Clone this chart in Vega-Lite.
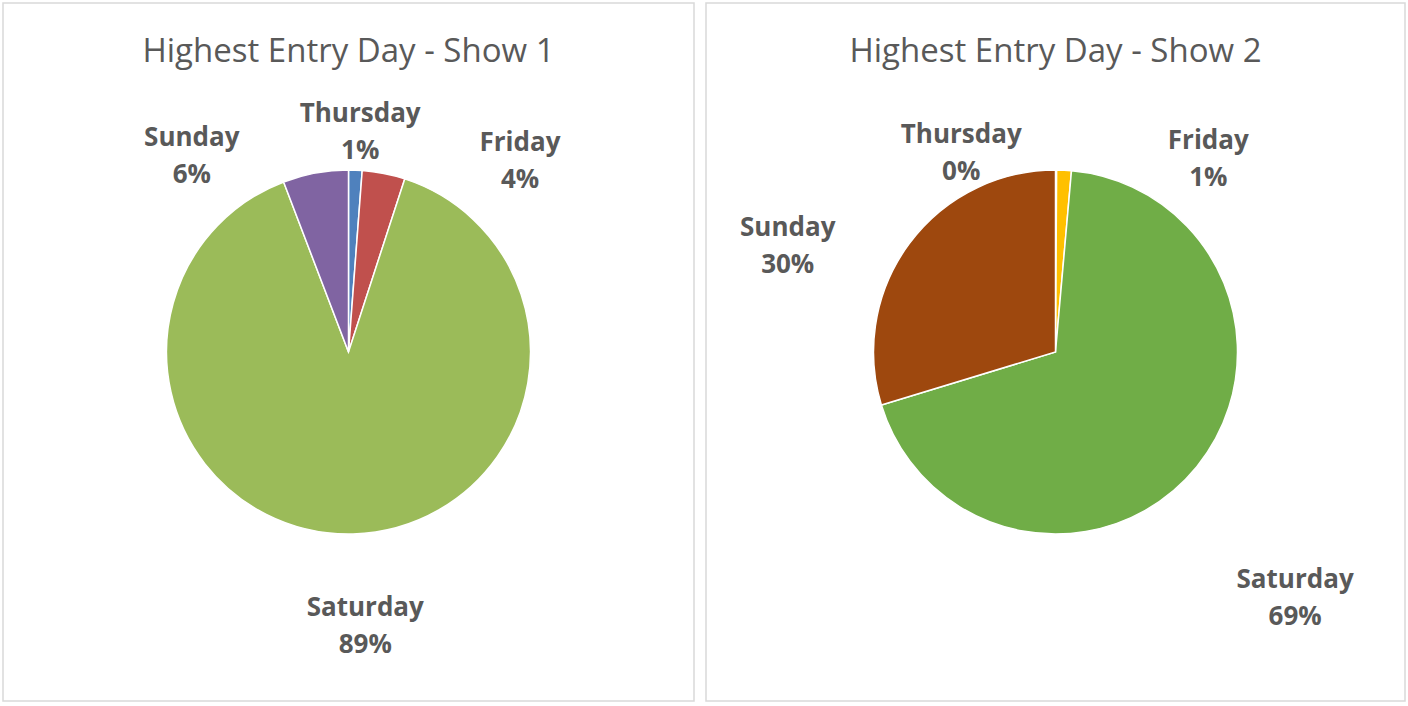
{
  "$schema": "https://vega.github.io/schema/vega-lite/v6.json",
  "padding": {"left": 2, "top": 2, "right": 0, "bottom": 0},
  "spacing": 10,
  "background": "white",
  "config": {
    "view": {"stroke": "#d9d9d9", "strokeWidth": 1.5},
    "title": {"font": "Open Sans", "fontSize": 33, "fontWeight": "normal", "color": "#595959", "anchor": "middle", "offset": -66}
  },
  "datasets": {
    "show1": [
      {"day": "Thursday", "share": 0.012, "idx": 1},
      {"day": "Friday", "share": 0.038, "idx": 2},
      {"day": "Saturday", "share": 0.892, "idx": 3},
      {"day": "Sunday", "share": 0.058, "idx": 4}
    ],
    "show2": [
      {"day": "Thursday", "share": 0.001, "idx": 1},
      {"day": "Friday", "share": 0.013, "idx": 2},
      {"day": "Saturday", "share": 0.689, "idx": 3},
      {"day": "Sunday", "share": 0.297, "idx": 4}
    ]
  },
  "resolve": {"scale": {"color": "independent"}},
  "hconcat": [
    {
      "width": 691,
      "height": 698,
      "view": {"stroke": "#d9d9d9", "strokeWidth": 1.5},
      "title": "Highest Entry Day - Show 1",
      "data": {"name": "show1"},
      "encoding": {
        "theta": {"field": "share", "type": "quantitative", "stack": true},
        "order": {"field": "idx", "type": "quantitative"}
      },
      "layer": [
        {
          "mark": {"type": "arc", "outerRadius": 182, "stroke": "white", "strokeWidth": 1.5},
          "encoding": {
            "color": {"field": "day", "type": "nominal", "legend": null,
              "scale": {"domain": ["Thursday", "Friday", "Saturday", "Sunday"], "range": ["#4f81bd", "#c0504d", "#9bbb59", "#8064a2"]}}
          }
        },
        {
          "mark": {"type": "text", "radius": 230, "font": "Open Sans", "fontSize": 26, "fontWeight": "bold", "color": "#595959",
            "dx": {"expr": "datum.day == 'Friday' ? 127 : datum.day == 'Sunday' ? -115 : datum.day == 'Thursday' ? 3 : 11"},
            "dy": {"expr": "(datum.day == 'Friday' ? 35 : datum.day == 'Sunday' ? 30 : datum.day == 'Thursday' ? 10 : 44) - 18"}},
          "encoding": {"text": {"field": "day", "type": "nominal"}}
        },
        {
          "mark": {"type": "text", "radius": 230, "font": "Open Sans", "fontSize": 26, "fontWeight": "bold", "color": "#595959",
            "dx": {"expr": "datum.day == 'Friday' ? 127 : datum.day == 'Sunday' ? -115 : datum.day == 'Thursday' ? 3 : 11"},
            "dy": {"expr": "(datum.day == 'Friday' ? 35 : datum.day == 'Sunday' ? 30 : datum.day == 'Thursday' ? 10 : 44) + 19"}},
          "encoding": {"text": {"field": "share", "type": "quantitative", "format": ".0%"}}
        }
      ]
    },
    {
      "width": 699,
      "height": 698,
      "view": {"stroke": "#d9d9d9", "strokeWidth": 1.5},
      "title": "Highest Entry Day - Show 2",
      "data": {"name": "show2"},
      "encoding": {
        "theta": {"field": "share", "type": "quantitative", "stack": true},
        "order": {"field": "idx", "type": "quantitative"}
      },
      "layer": [
        {
          "mark": {"type": "arc", "outerRadius": 182, "stroke": "white", "strokeWidth": 1.5},
          "encoding": {
            "color": {"field": "day", "type": "nominal", "legend": null,
              "scale": {"domain": ["Thursday", "Friday", "Saturday", "Sunday"], "range": ["#4472c4", "#ffc000", "#70ad47", "#9e480e"]}}
          }
        },
        {
          "mark": {"type": "text", "radius": 230, "font": "Open Sans", "fontSize": 26, "fontWeight": "bold", "color": "#595959",
            "dx": {"expr": "datum.day == 'Friday' ? 142 : datum.day == 'Thursday' ? -95 : datum.day == 'Sunday' ? -83 : 61"},
            "dy": {"expr": "(datum.day == 'Friday' ? 37 : datum.day == 'Thursday' ? 31 : datum.day == 'Sunday' ? 31 : 101) - 18"}},
          "encoding": {"text": {"field": "day", "type": "nominal"}}
        },
        {
          "mark": {"type": "text", "radius": 230, "font": "Open Sans", "fontSize": 26, "fontWeight": "bold", "color": "#595959",
            "dx": {"expr": "datum.day == 'Friday' ? 142 : datum.day == 'Thursday' ? -95 : datum.day == 'Sunday' ? -83 : 61"},
            "dy": {"expr": "(datum.day == 'Friday' ? 37 : datum.day == 'Thursday' ? 31 : datum.day == 'Sunday' ? 31 : 101) + 19"}},
          "encoding": {"text": {"field": "share", "type": "quantitative", "format": ".0%"}}
        }
      ]
    }
  ]
}
